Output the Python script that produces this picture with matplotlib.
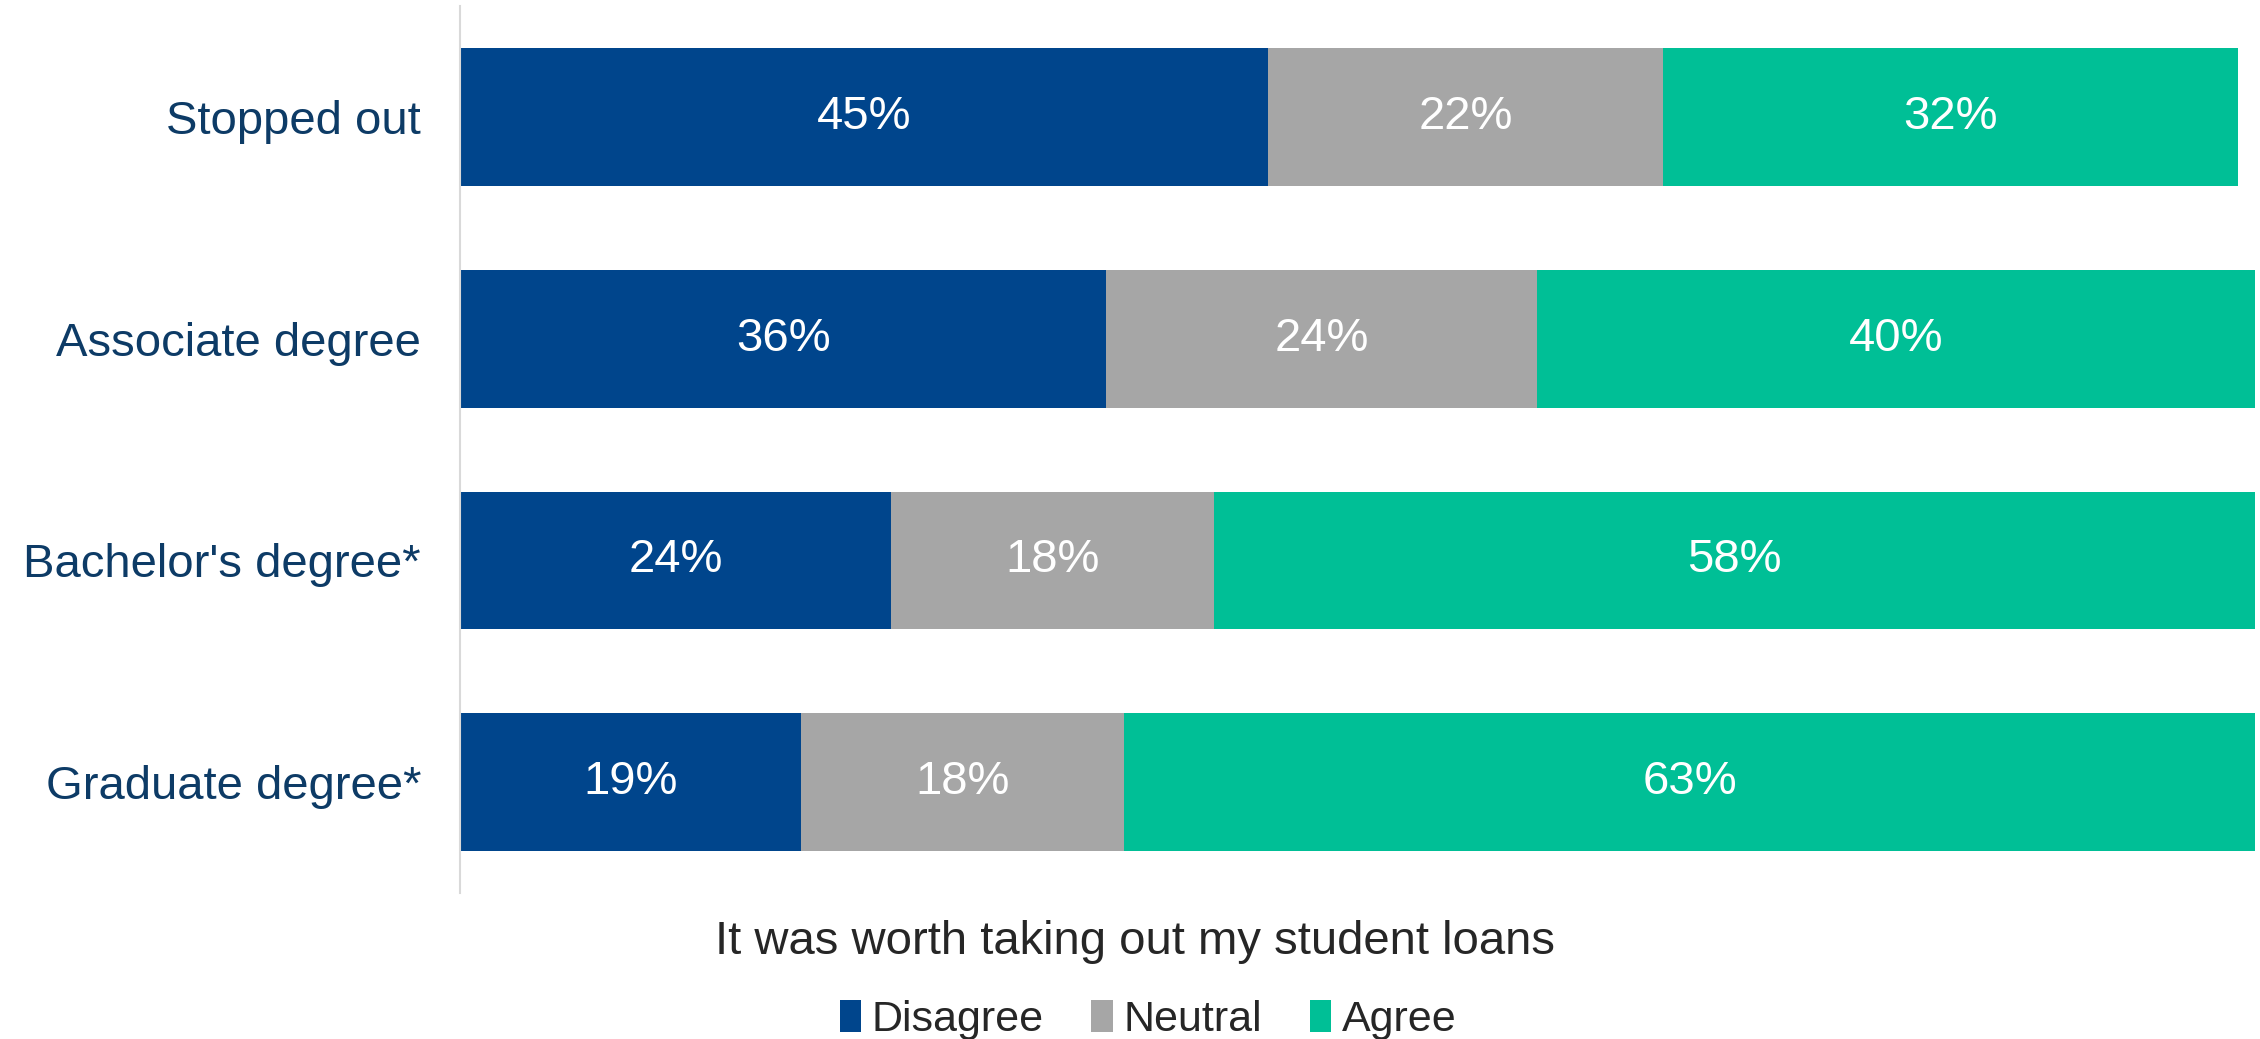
import numpy as np
import matplotlib.pyplot as plt
from matplotlib.patches import Patch

plt.rcParams['font.family'] = ['Liberation Sans', 'DejaVu Sans']

groups = ['Stopped out', 'Associate degree', "Bachelor's degree*", 'Graduate degree*']
disagree = [45, 36, 24, 19]
neutral = [22, 24, 18, 18]
agree = [32, 40, 58, 63]
series_names = ['Disagree', 'Neutral', 'Agree']
colors = ['#00458C', '#A6A6A6', '#00BF96']

fig = plt.figure(figsize=(22.6, 10.39), dpi=100)
ax = fig.add_axes([0.2035, 0.1405, 0.7945, 0.8535])

ind = np.arange(len(groups))
height = 0.62
left = np.zeros(len(groups))
for vals, col in zip([disagree, neutral, agree], colors):
    vals = np.array(vals, dtype=float)
    bars = ax.barh(ind, vals, height, left=left, color=col)
    for b, v in zip(bars, vals):
        ax.text(b.get_x() + b.get_width() / 2, b.get_y() + b.get_height() / 2,
                '%d%%' % v, ha='center', va='center', color='white', fontsize=34)
    left += vals

ax.set_xlim(0, 100)
ax.set_ylim(len(groups) - 0.5, -0.5)
ax.set_yticks(ind)
ax.set_yticklabels(groups, fontsize=34, color='#0D3B66')
ax.set_xticks([])
ax.tick_params(axis='y', length=0, pad=28)
for s in ['top', 'right', 'bottom']:
    ax.spines[s].set_visible(False)
ax.spines['left'].set_color('#D9D9D9')
ax.spines['left'].set_linewidth(1.5)

fig.text(0.502, 1 - 942 / 1039, 'It was worth taking out my student loans',
         ha='center', va='center', fontsize=34, color='#262626')

handles = [Patch(facecolor=c, edgecolor='none') for c in colors]
fig.legend(handles, series_names, loc='center', bbox_to_anchor=(0.508, 1 - 1020 / 1039),
           ncol=3, frameon=False, fontsize=31, handlelength=0.5, handleheight=0.75,
           handletextpad=0.25, columnspacing=1.1, labelcolor='#262626',
           borderpad=0, borderaxespad=0)

fig.savefig('out.png', dpi=100)
